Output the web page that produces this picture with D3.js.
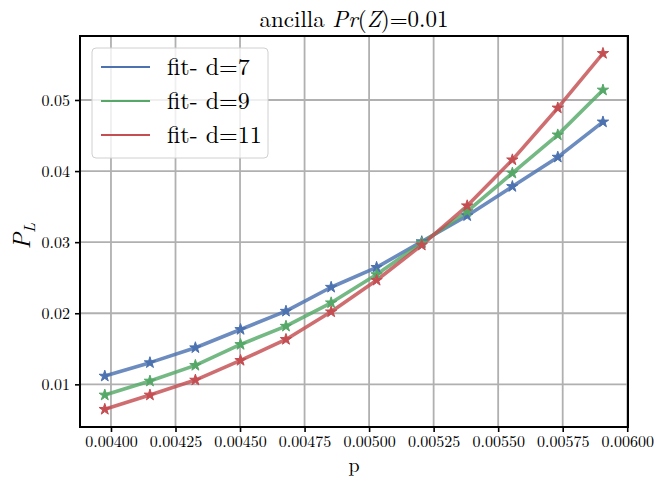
<!DOCTYPE html>
<html>
<head>
<meta charset="utf-8">
<script src="https://cdn.jsdelivr.net/npm/d3@7"></script>
<style>
  html, body { margin: 0; padding: 0; background: #fff; }
  svg text { font-family: "Latin Modern Roman", "CMU Serif", "Liberation Serif", serif; fill: #000; }
</style>
</head>
<body>
<svg id="chart" width="655" height="478"></svg>
<script>
// Physical error rate p
const pValues = [0.003976, 0.004151, 0.004327, 0.004502, 0.004678, 0.004853,
                 0.005029, 0.005204, 0.005380, 0.005555, 0.005731, 0.005906];

// Logical error rate P_L for each code distance
const plD7  = [0.01116, 0.01305, 0.01515, 0.01772, 0.02029, 0.02366,
               0.02646, 0.03007, 0.03372, 0.03783, 0.04196, 0.04691];
const plD9  = [0.00850, 0.01046, 0.01267, 0.01561, 0.01818, 0.02147,
               0.02544, 0.02989, 0.03432, 0.03971, 0.04509, 0.05140];
const plD11 = [0.00649, 0.00850, 0.01060, 0.01337, 0.01632, 0.02020,
               0.02464, 0.02958, 0.03512, 0.04158, 0.04888, 0.05655];

const seriesNames = ["fit- d=7", "fit- d=9", "fit- d=11"];
const seriesColors = ["#4C72B0", "#55A868", "#C44E52"];

const xTicks = [0.004, 0.00425, 0.0045, 0.00475, 0.005, 0.00525, 0.0055, 0.00575, 0.006];
const yTicks = [0.01, 0.02, 0.03, 0.04, 0.05];

const series = [plD7, plD9, plD11].map((vals, i) => ({
  name: seriesNames[i],
  color: seriesColors[i],
  points: vals.map((v, j) => ({ p: pValues[j], v }))
}));

const svg = d3.select("#chart");
const plotLeft = 80, plotRight = 628, plotTop = 36, plotBottom = 427;

const x = d3.scaleLinear().domain([0.00388, 0.006003]).range([plotLeft, plotRight]);
const y = d3.scaleLinear().domain([0.0040, 0.0590]).range([plotBottom, plotTop]);

// grid
const grid = svg.append("g");
grid.selectAll("line.gx").data(xTicks).join("line")
  .attr("x1", d => x(d)).attr("x2", d => x(d))
  .attr("y1", plotTop).attr("y2", plotBottom)
  .attr("stroke", "#b0b0b0").attr("stroke-width", 1.8);
grid.selectAll("line.gy").data(yTicks).join("line")
  .attr("x1", plotLeft).attr("x2", plotRight)
  .attr("y1", d => y(d)).attr("y2", d => y(d))
  .attr("stroke", "#b0b0b0").attr("stroke-width", 1.8);

// curves
const line = d3.line().x(d => x(d.p)).y(d => y(d.v));
const plot = svg.append("g");
series.forEach(s => {
  plot.append("path").datum(s.points)
    .attr("d", line)
    .attr("fill", "none")
    .attr("stroke", s.color)
    .attr("stroke-width", 3.6)
    .attr("stroke-opacity", 0.82)
    .attr("stroke-linejoin", "round");
});
const star = d3.symbol().type(d3.symbolStar).size(40);
series.forEach(s => {
  plot.selectAll(null).data(s.points).join("path")
    .attr("d", star)
    .attr("transform", d => `translate(${x(d.p)},${y(d.v)})`)
    .attr("fill", s.color)
    .attr("stroke", s.color)
    .attr("stroke-width", 1);
});

// axes
const xAxis = d3.axisBottom(x).tickValues(xTicks).tickFormat(d3.format(".5f"))
  .tickSize(5).tickPadding(4);
const yAxis = d3.axisLeft(y).tickValues(yTicks).tickFormat(d3.format(".2f"))
  .tickSize(5).tickPadding(5);

const gx = svg.append("g").attr("transform", `translate(0,${plotBottom})`).call(xAxis);
const gy = svg.append("g").attr("transform", `translate(${plotLeft},0)`).call(yAxis);
[gx, gy].forEach(g => {
  g.select(".domain").remove();
  g.selectAll(".tick line").attr("stroke", "#000").attr("stroke-width", 1.6);
  g.selectAll(".tick text").style("font-size", "16px")
    .style("font-family", "'Latin Modern Roman', 'CMU Serif', 'Liberation Serif', serif");
});

// frame
svg.append("rect")
  .attr("x", plotLeft).attr("y", plotTop)
  .attr("width", plotRight - plotLeft).attr("height", plotBottom - plotTop)
  .attr("fill", "none").attr("stroke", "#000").attr("stroke-width", 2);

// title
const title = svg.append("text")
  .attr("x", (plotLeft + plotRight) / 2).attr("y", 27)
  .attr("text-anchor", "middle").style("font-size", "23px");
title.append("tspan").text("ancilla ");
title.append("tspan").style("font-style", "italic").text("Pr");
title.append("tspan").text("(");
title.append("tspan").style("font-style", "italic").text("Z");
title.append("tspan").text(")=0.01");

// axis labels
svg.append("text")
  .attr("x", (plotLeft + plotRight) / 2).attr("y", 472)
  .attr("text-anchor", "middle").style("font-size", "20px").text("p");

const yl = svg.append("text")
  .attr("transform", `translate(30,236) rotate(-90)`)
  .attr("text-anchor", "middle").style("font-size", "24px");
yl.append("tspan").style("font-style", "italic").text("P");
yl.append("tspan").style("font-style", "italic").style("font-size", "16px")
  .attr("dy", 5).text("L");

// legend
const lg = svg.append("g");
lg.append("rect")
  .attr("x", 92).attr("y", 48).attr("width", 176).attr("height", 110)
  .attr("rx", 4).attr("ry", 4)
  .attr("fill", "#fff").attr("fill-opacity", 0.8)
  .attr("stroke", "#d0d0d0").attr("stroke-width", 1);
series.forEach((s, i) => {
  const cy = 67 + i * 34;
  lg.append("line")
    .attr("x1", 101).attr("x2", 150).attr("y1", cy).attr("y2", cy)
    .attr("stroke", s.color).attr("stroke-width", 2.2);
  lg.append("text")
    .attr("x", 167).attr("y", cy + 8)
    .style("font-size", "24px").text(s.name);
});
</script>
</body>
</html>
